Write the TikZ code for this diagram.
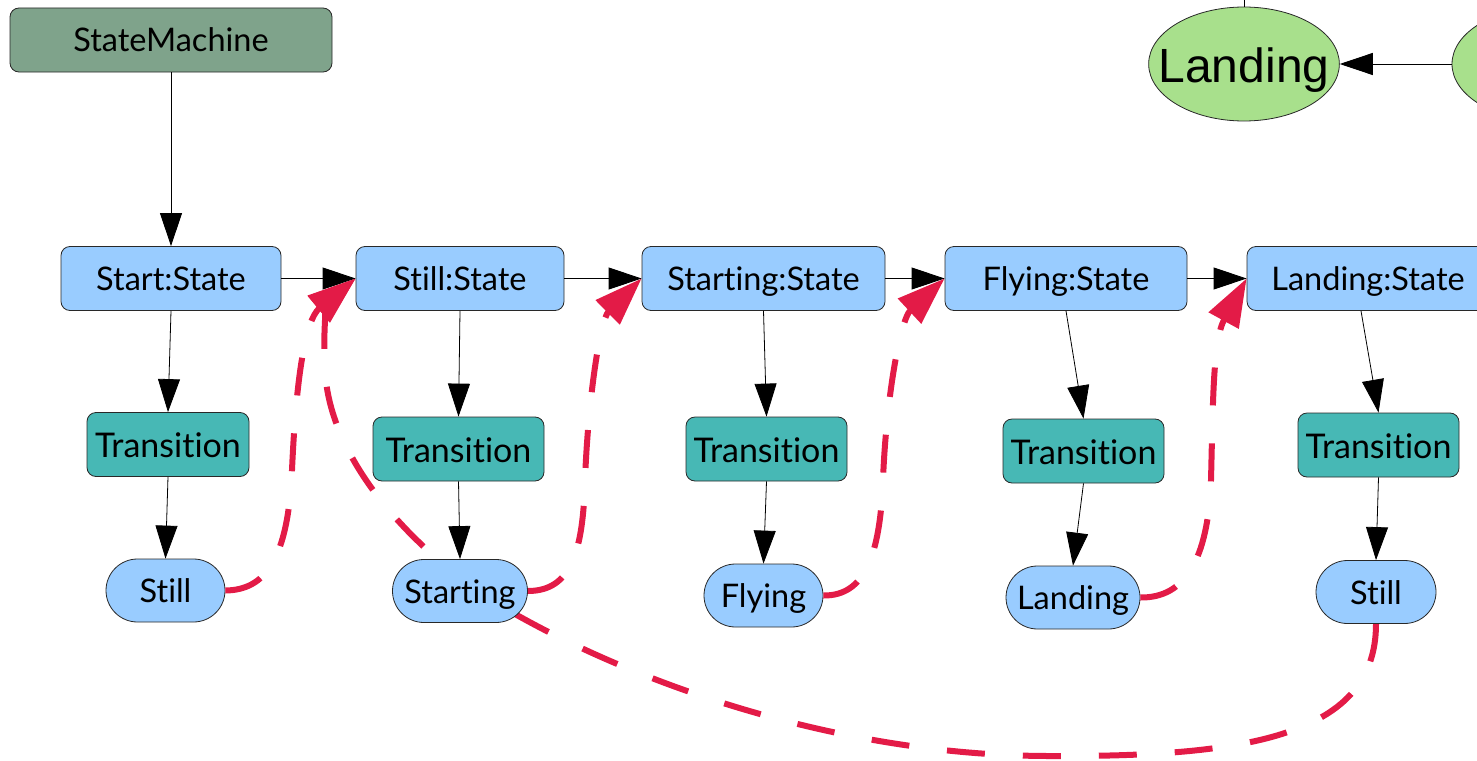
\documentclass[tikz,border=0pt]{standalone}
\usepackage{fontspec}
\setmainfont{Lato}[Ligatures=NoCommon]
\newfontfamily\arialf{Liberation Sans}
\usetikzlibrary{arrows.meta,shapes.misc,shapes.geometric,backgrounds}
\definecolor{smfill}{RGB}{127,163,139}
\definecolor{stfill}{RGB}{153,204,255}
\definecolor{trfill}{RGB}{71,184,181}
\definecolor{grfill}{RGB}{168,224,140}
\definecolor{redc}{RGB}{227,27,71}
\definecolor{bordc}{RGB}{40,40,40}
\begin{document}
\begin{tikzpicture}[x=1pt,y=-1pt,
  box/.style={draw=bordc, line width=0.8pt, rounded corners=9pt, inner sep=0pt, font=\fontsize{32.5}{38}\selectfont, text height=31pt, text depth=7pt},
  smbox/.style={box, fill=smfill},
  stbox/.style={box, fill=stfill, minimum height=64pt},
  trbox/.style={box, fill=trfill, minimum height=64pt, font=\fontsize{34}{40}\selectfont, text height=33pt, text depth=7pt},
  leaf/.style={rounded rectangle, draw=bordc, line width=0.8pt, fill=stfill, inner sep=0pt, minimum height=63pt, font=\fontsize{32.5}{38}\selectfont, text height=31pt, text depth=7pt},
  gell/.style={ellipse, draw=bordc, line width=0.8pt, fill=grfill, inner xsep=-18pt, inner ysep=0pt, minimum width=190pt, minimum height=114pt, font=\arialf\fontsize{48}{56}\selectfont, text height=42pt, text depth=6pt},
  blkarr/.style={draw=black, line width=0.8pt, -{Triangle[length=33pt,width=22pt]}},
  redarr/.style={draw=redc, line width=6pt, dash pattern=on 38pt off 38pt, -{Triangle[length=48pt,width=33pt]}}
]
\useasboundingbox (0,0) rectangle (1477,760);
\clip (0,0) rectangle (1477,760);

% top-right fragment
\node[gell] (landE) at (1244,64) {Landing};
\node[gell] (rightE) at (1547,64) {};
\coordinate (topc) at (1244,-30);
\draw[line width=0.8pt] (topc) -- (landE.north);
\draw[blkarr] (rightE.west) -- (landE.east);

% main nodes
\node[smbox, minimum width=322pt, minimum height=64pt] (sm) at (171,40) {StateMachine};

\node[stbox, minimum width=220pt] (start) at (171,278.5) {Start:State};
\node[stbox, minimum width=208pt] (stillS) at (460,278.5) {Still:State};
\node[stbox, minimum width=243pt] (startingS) at (763.5,278.5) {Starting:State};
\node[stbox, minimum width=242pt] (flyingS) at (1066,278.5) {Flying:State};
\node[stbox, minimum width=242pt] (landingS) at (1368,278.5) {Landing:State};

\node[trbox, minimum width=162pt] (t1) at (168,444.5) {Transition};
\node[trbox, minimum width=171pt] (t2) at (458.5,449) {Transition};
\node[trbox, minimum width=161pt] (t3) at (766.5,449) {Transition};
\node[trbox, minimum width=161pt] (t4) at (1083.5,451) {Transition};
\node[trbox, minimum width=161pt] (t5) at (1378.5,445) {Transition};

\node[leaf, minimum width=119pt] (still1) at (165.5,590.5) {Still};
\node[leaf, minimum width=135pt] (starting) at (460,591) {Starting};
\node[leaf, minimum width=119pt] (flying) at (763.5,595.5) {Flying};
\node[leaf, minimum width=134pt] (landing) at (1073,597.5) {Landing};
\node[leaf, minimum width=120pt] (still2) at (1376,592) {Still};

% black connectors
\draw[blkarr] (sm.south) -- (start.north);
\draw[blkarr] (start.east) -- (stillS.west);
\draw[blkarr] (stillS.east) -- (startingS.west);
\draw[blkarr] (startingS.east) -- (flyingS.west);
\draw[blkarr] (flyingS.east) -- (landingS.west);

\draw[blkarr] (start.south) -- (t1.north);
\draw[blkarr] (t1.south) -- (still1.north);
\draw[blkarr] (stillS.south) -- (t2.north);
\draw[blkarr] (t2.south) -- (starting.north);
\draw[blkarr] (startingS.south) -- (t3.north);
\draw[blkarr] (t3.south) -- (flying.north);
\draw[blkarr] (flyingS.south) -- (t4.north);
\draw[blkarr] (t4.south) -- (landing.north);
\draw[blkarr] ([xshift=-7pt]landingS.south) -- (t5.north);
\draw[blkarr] (t5.south) -- (still2.north);

% red dashed transitions
\begin{pgfonlayer}{background}
\draw[redarr] (still2.south) .. controls (1376,735) and (1250,757) .. (1050,756)
  .. controls (850,756) and (650,690) .. (515,614)
  .. controls (430,566) and (330,470) .. (325,370)
  .. controls (322,320) and (330,300) .. (stillS.west);
\end{pgfonlayer}
\draw[redarr] (still1.east) .. controls (265,590) and (288,560) .. (292,470)
  .. controls (296,380) and (305,320) .. (stillS.west);
\draw[redarr] (starting.east) .. controls (572,591) and (583,550) .. (585,480)
  .. controls (588,400) and (600,320) .. (startingS.west);
\draw[redarr] (flying.east) .. controls (865,596) and (880,555) .. (883,480)
  .. controls (886,400) and (900,320) .. (flyingS.west);
\draw[redarr] (landing.east) .. controls (1185,598) and (1208,560) .. (1211,480)
  .. controls (1213,400) and (1213,340) .. (landingS.west);
\end{tikzpicture}
\end{document}
